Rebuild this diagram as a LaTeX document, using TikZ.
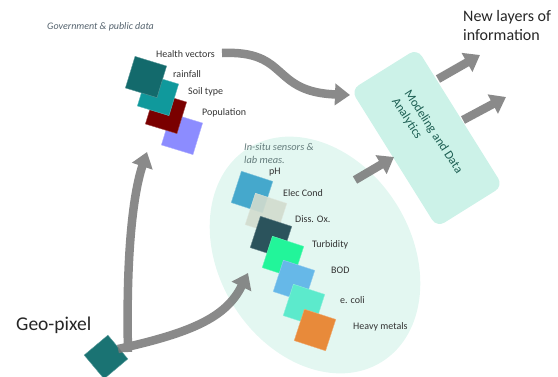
\documentclass[tikz,border=0pt]{standalone}
\usepackage{fontspec}
\setmainfont{Carlito}
\usetikzlibrary{arrows.meta}
\def\Tile{33pt}
\def\Flow{8.5pt}
\definecolor{mint}{HTML}{E3F7F1}
\definecolor{boxmint}{HTML}{CCF2E8}
\definecolor{modelgreen}{HTML}{1C5E52}
\definecolor{flowgray}{HTML}{767676}
\definecolor{notegray}{HTML}{55636E}
\definecolor{sensorgray}{HTML}{647C7C}
% layer colours
\definecolor{healthcol}{HTML}{136A6C}
\definecolor{raincol}{HTML}{10999C}
\definecolor{soilcol}{HTML}{7A0000}
\definecolor{popcol}{HTML}{8C8CFF}
\definecolor{phcol}{HTML}{45A8CC}
\definecolor{condcol}{HTML}{D2DCCE}
\definecolor{oxcol}{HTML}{2B535C}
\definecolor{turbcol}{HTML}{22F59A}
\definecolor{bodcol}{HTML}{66B8E8}
\definecolor{colicol}{HTML}{5CEACC}
\definecolor{metalcol}{HTML}{E88A3A}
\definecolor{geocol}{HTML}{1A7373}

\begin{document}
\begin{tikzpicture}[x=1pt,y=-1pt,
  tile/.style={fill=#1, draw=#1!70!white, line width=0.4pt, minimum size=\Tile, inner sep=0pt},
  lbl/.style={anchor=west, inner sep=0pt, text=black!80, font=\fontsize{10}{12}\selectfont},
  flow/.style={draw=flowgray, line width=\Flow, -{Triangle[width=21pt,length=15pt]}}]
  \clip (0,0) rectangle (558,376);
  % sensor ellipse and model box
  \fill[mint, rotate around={-58:(315,255)}] (315,255) ellipse [x radius=126, y radius=96];
  \node[fill=boxmint, rounded corners=9pt, minimum width=162pt, minimum height=78pt, rotate=-58] (model) at (427,138) {};
  \node[rotate=-57, align=left, inner sep=0pt, text=modelgreen, font=\fontsize{12.5}{15}\selectfont] (modeltxt) at (427,136) {Modeling and Data\\Analytics};
  % government layers (top one drawn last)
  \node[tile=popcol, rotate=-17] (pop) at (182,134) {};
  \node[tile=soilcol, rotate=-17] (soil) at (166,113) {};
  \node[tile=raincol, rotate=-17] (rain) at (158,95) {};
  \node[tile=healthcol, rotate=-17] (health) at (146,77) {};
  % sensor layers
  \node[tile=phcol, rotate=-18] (ph) at (252,192) {};
  \node[tile=condcol, rotate=-18, opacity=0.9] (cond) at (266,214) {};
  \node[tile=oxcol, rotate=-18] (ox) at (271,237) {};
  \node[tile=turbcol, rotate=-18] (turb) at (283,257) {};
  \node[tile=bodcol, rotate=-18] (bod) at (294,281) {};
  \node[tile=colicol, rotate=-18] (coli) at (304,305) {};
  \node[tile=metalcol, rotate=-18] (metal) at (315,330) {};
  % geo-pixel
  \node[tile=geocol, minimum size=31pt, rotate=40] (geo) at (106,357) {};
  % labels
  \node[anchor=west, inner sep=0pt, text=notegray, font=\fontsize{10}{12}\selectfont\itshape] (govtxt) at (47,27) {Government \& public data};
  \node[lbl] (healthlbl) at (156,54) {Health vectors};
  \node[lbl] (rainlbl) at (173,74) {rainfall};
  \node[lbl] (soillbl) at (188,92) {Soil type};
  \node[lbl] (poplbl) at (202,113) {Population};
  \node[anchor=north west, align=left, inner sep=0pt, text=sensorgray, font=\fontsize{10.4}{13}\selectfont\itshape] (insitu) at (244,143) {In-situ sensors \&\\lab meas.};
  \node[lbl] (phlbl) at (269,172) {pH};
  \node[lbl] (condlbl) at (283,193) {Elec Cond};
  \node[lbl] (oxlbl) at (295,219) {Diss. Ox.};
  \node[lbl] (turblbl) at (312,245) {Turbidity};
  \node[lbl] (bodlbl) at (331,270) {BOD};
  \node[lbl] (colilbl) at (340,300) {e. coli};
  \node[lbl] (metallbl) at (353,327) {Heavy metals};
  \node[anchor=north west, align=left, inner sep=0pt, text=black!85, font=\fontsize{16}{19}\selectfont] (newinfo) at (463,10) {New layers of\\information};
  \node[anchor=west, inner sep=0pt, text=black!85, font=\fontsize{19.5}{22}\selectfont] (geolbl) at (16,325) {Geo-pixel};
  % arrow ends
  \coordinate (hvtail) at (222,53);
  \coordinate (hvtip) at (350,95);
  \coordinate (geotail) at (128,352);
  \coordinate (govtip) at (147,152);
  \coordinate (geotail2) at (118,349);
  \coordinate (ellipsetip) at (248,273);
  \coordinate (sensortail) at (355,180);
  \coordinate (modeltip) at (394,157);
  \coordinate (outtail1) at (438,79);
  \coordinate (outtip1) at (480,55);
  \coordinate (outtail2) at (463,120);
  \coordinate (outtip2) at (506,97);
  % arrows
  \begin{scope}[transparency group, opacity=0.85]
    \draw[flow] (hvtail) .. controls +(68,-3) and +(-80,-3) .. (hvtip);
    \draw[flow] (geotail) .. controls +(-2,-90) and +(-15,45) .. (govtip);
    \draw[flow] (geotail2) .. controls +(72,-16) and +(-22,45) .. (ellipsetip);
    \draw[flow] (sensortail) -- (modeltip);
    \draw[flow] (outtail1) -- (outtip1);
    \draw[flow] (outtail2) -- (outtip2);
  \end{scope}
\end{tikzpicture}
\end{document}
